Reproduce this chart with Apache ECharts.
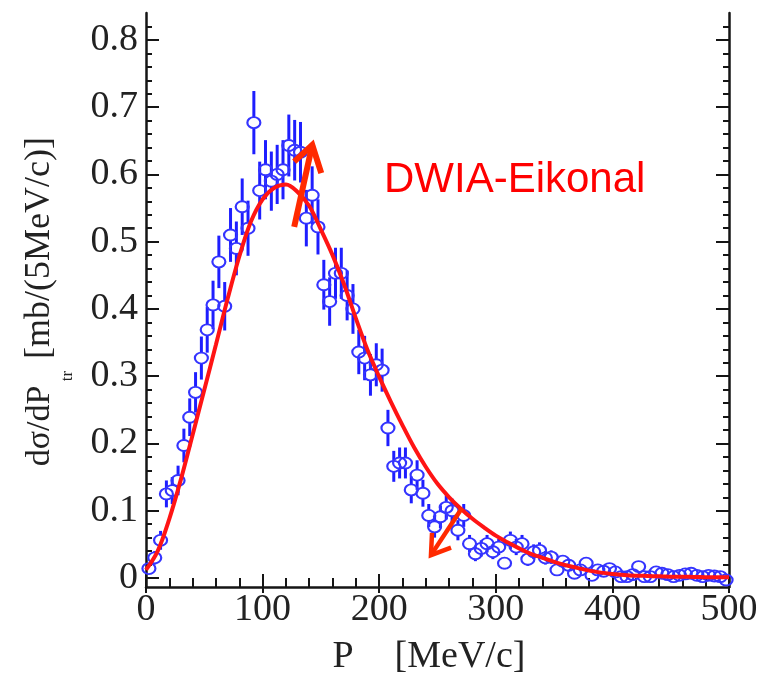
<!DOCTYPE html>
<html><head><meta charset="utf-8">
<script src="https://cdn.jsdelivr.net/npm/echarts@6/dist/echarts.min.js"></script>
<style>html,body{margin:0;padding:0;background:#fff}#c{width:765px;height:679px}</style>
</head><body><div id="c"></div>
<script>
// bin centres of the measured momentum distribution [MeV/c]
const binCenters = [2.5,7.5,12.5,17.5,22.5,27.5,32.5,37.5,42.5,47.5,52.5,57.5,62.5,67.5,72.5,77.5,82.5,87.5,92.5,97.5,
  102.5,107.5,112.5,117.5,122.5,127.5,132.5,137.5,142.5,147.5,152.5,157.5,162.5,167.5,172.5,177.5,182.5,187.5,192.5,197.5,
  202.5,207.5,212.5,217.5,222.5,227.5,232.5,237.5,242.5,247.5,252.5,257.5,262.5,267.5,272.5,277.5,282.5,287.5,292.5,297.5,
  302.5,307.5,312.5,317.5,322.5,327.5,332.5,337.5,342.5,347.5,352.5,357.5,362.5,367.5,372.5,377.5,382.5,387.5,392.5,397.5,
  402.5,407.5,412.5,417.5,422.5,427.5,432.5,437.5,442.5,447.5,452.5,457.5,462.5,467.5,472.5,477.5,482.5,487.5,492.5,497.5];
// measured dsigma/dP [mb/(5MeV/c)]
const measured = [0.014,0.030,0.056,0.125,0.130,0.145,0.197,0.239,0.276,0.327,0.369,0.406,0.470,0.404,0.510,0.490,0.552,0.520,0.677,0.576,
  0.607,0.590,0.600,0.607,0.643,0.636,0.633,0.535,0.569,0.522,0.436,0.411,0.453,0.453,0.420,0.400,0.336,0.327,0.302,0.317,
  0.309,0.223,0.166,0.171,0.171,0.131,0.153,0.126,0.093,0.076,0.091,0.105,0.100,0.071,0.093,0.051,0.036,0.044,0.051,0.039,
  0.046,0.022,0.056,0.046,0.051,0.028,0.039,0.041,0.030,0.031,0.012,0.025,0.019,0.007,0.012,0.022,0.004,0.012,0.010,0.014,
  0.009,0.002,0.002,0.005,0.017,0.002,0.002,0.009,0.007,0.005,0.002,0.004,0.006,0.007,0.004,0.002,0.004,0.003,0.002,-0.003];
// statistical errors
const errors = [0.008,0.010,0.014,0.020,0.020,0.022,0.025,0.028,0.030,0.032,0.034,0.036,0.039,0.036,0.040,0.040,0.042,0.041,0.047,0.043,
  0.044,0.044,0.044,0.044,0.046,0.045,0.045,0.042,0.043,0.041,0.037,0.036,0.038,0.038,0.037,0.037,0.033,0.033,0.031,0.032,
  0.032,0.027,0.023,0.023,0.023,0.020,0.022,0.020,0.017,0.016,0.017,0.018,0.018,0.015,0.017,0.013,0.011,0.012,0.013,0.011,
  0.012,0.009,0.013,0.012,0.013,0.010,0.011,0.012,0.010,0.010,0.007,0.009,0.008,0.006,0.007,0.009,0.005,0.007,0.006,0.007,
  0.006,0.005,0.005,0.005,0.008,0.005,0.005,0.006,0.006,0.005,0.005,0.005,0.005,0.006,0.005,0.005,0.005,0.005,0.005,0.005];
// DWIA-Eikonal calculation
const curveP = [0,10,20,30,40,50,60,70,80,90,100,110,120,130,140,150,160,170,180,190,200,210,220,230,240,250,
  260,270,280,290,300,310,320,330,340,350,360,370,380,390,400,410,420,430,440,450,460,470,480,490,500];
const curveSigma = [0.012,0.040,0.088,0.147,0.213,0.280,0.347,0.415,0.478,0.530,0.563,0.580,0.585,0.574,0.553,0.518,0.480,0.436,0.386,0.339,0.299,0.262,0.227,0.194,0.165,0.140,
  0.120,0.103,0.088,0.075,0.063,0.053,0.044,0.036,0.030,0.024,0.019,0.015,0.011,0.008,0.006,0.0045,0.0035,0.003,0.0025,0.002,0.0018,0.0015,0.0012,0.001,0.001];
// axis ticks
const xTickStep = 100;
const yMajorTicks = [0,0.1,0.2,0.3,0.4,0.5,0.6,0.7,0.8];
const yMinorTicks = [0.02,0.04,0.06,0.08,0.12,0.14,0.16,0.18,0.22,0.24,0.26,0.28,0.32,0.34,0.36,0.38,0.42,0.44,0.46,0.48,
  0.52,0.54,0.56,0.58,0.62,0.64,0.66,0.68,0.72,0.74,0.76,0.78,0.82];
// annotation arrows (data coordinates)
const arrowShafts = [[[127.1,0.522],[142.6,0.644]], [[271.0,0.104],[244.4,0.034]]];
const arrowHeads = [[[127.1,0.619],[142.6,0.644],[150.3,0.602]], [[245.3,0.067],[244.4,0.034],[261.6,0.045]]];

const serif = '"Liberation Serif","DejaVu Serif",serif';
const axisColor = '#151515';
const YMIN = -0.0134, YMAX = 0.84;

const chart = echarts.init(document.getElementById('c'), null, {renderer: 'canvas'});

function yAxisDef(pos, ticks, len, showLine, showLabel) {
  return {
    type: 'value', position: pos, min: YMIN, max: YMAX,
    axisLine: {show: showLine, onZero: false, lineStyle: {color: axisColor, width: 2.5}},
    axisTick: {show: true, inside: true, length: len, customValues: ticks, lineStyle: {color: axisColor, width: 2}},
    axisLabel: {show: showLabel, customValues: ticks, margin: 8, fontFamily: serif, fontSize: 38, color: '#222',
      formatter: v => String(+v.toFixed(2))},
    splitLine: {show: false}
  };
}

const option = {
  animation: false,
  backgroundColor: '#fff',
  grid: {left: 146, right: 36, top: 13, bottom: 92, containLabel: false},
  xAxis: [
    {type: 'value', position: 'bottom', min: 0, max: 500, interval: xTickStep,
     axisLine: {show: true, onZero: false, lineStyle: {color: axisColor, width: 2.5}},
     axisTick: {inside: true, length: 13, lineStyle: {color: axisColor, width: 2}},
     minorTick: {show: true, splitNumber: 5, length: 6, lineStyle: {color: axisColor, width: 2}},
     axisLabel: {margin: 4, fontFamily: serif, fontSize: 38, color: '#222'},
     splitLine: {show: false}, minorSplitLine: {show: false}},
    {type: 'value', position: 'top', min: 0, max: 500, interval: xTickStep,
     axisLine: {show: false},
     axisTick: {inside: true, length: 15, lineStyle: {color: axisColor, width: 2}},
     minorTick: {show: true, splitNumber: 5, length: 5, lineStyle: {color: axisColor, width: 2}},
     axisLabel: {show: false}, splitLine: {show: false}}
  ],
  yAxis: [
    yAxisDef('left', yMajorTicks, 13, true, true),
    yAxisDef('left', yMinorTicks, 6, false, false),
    yAxisDef('right', yMajorTicks, 13, true, false),
    yAxisDef('right', yMinorTicks, 6, false, false)
  ],
  series: [
    {
      type: 'custom', name: 'errors', xAxisIndex: 0, yAxisIndex: 0, z: 2, clip: false,
      data: binCenters.map((x, i) => [x, measured[i], errors[i]]),
      encode: {x: 0, y: 1},
      renderItem: function (params, api) {
        const x = api.value(0), y = api.value(1), e = api.value(2);
        const c = api.coord([x, y]);
        const t = api.coord([x, y + e]);
        const b = api.coord([x, y - e]);
        const r = 5.5;
        const ch = [];
        const st = {stroke: '#1e1eff', lineWidth: 3};
        if (c[1] - t[1] > r) ch.push({type: 'line', shape: {x1: c[0], y1: t[1], x2: c[0], y2: c[1] - r}, style: st});
        if (b[1] - c[1] > r) ch.push({type: 'line', shape: {x1: c[0], y1: c[1] + r, x2: c[0], y2: b[1]}, style: st});
        return {type: 'group', children: ch};
      }
    },
    {
      type: 'scatter', name: 'data', xAxisIndex: 0, yAxisIndex: 0, z: 3,
      data: binCenters.map((x, i) => [x, measured[i]]),
      symbol: 'circle', symbolSize: [13, 11],
      itemStyle: {color: 'rgba(0,0,0,0)', borderColor: '#3434ff', borderWidth: 2, opacity: 1},
      emphasis: {disabled: true}
    },
    {
      type: 'line', name: 'DWIA-Eikonal', xAxisIndex: 0, yAxisIndex: 0, z: 4,
      data: curveP.map((x, i) => [x, curveSigma[i]]),
      showSymbol: false, smooth: 0.35,
      lineStyle: {color: '#ff1414', width: 4}
    },
    {
      type: 'custom', name: 'arrows', xAxisIndex: 0, yAxisIndex: 0, z: 5, clip: false,
      data: arrowShafts.map(s => [s[1][0], s[1][1]]),
      encode: {x: 0, y: 1},
      renderItem: function (params, api) {
        const i = params.dataIndex;
        const w = i === 0 ? 6 : 4.5;
        const st = {stroke: '#ff2a00', lineWidth: w, fill: null, lineJoin: 'miter', lineCap: 'butt'};
        return {type: 'group', children: [
          {type: 'polyline', shape: {points: arrowShafts[i].map(p => api.coord(p))}, style: st},
          {type: 'polyline', shape: {points: arrowHeads[i].map(p => api.coord(p))}, style: st}
        ]};
      }
    }
  ],
  graphic: [
    {type: 'text', x: 40, y: 426, rotation: Math.PI / 2,
     style: {text: 'dσ/dP', font: '34px ' + serif, fill: '#222', align: 'center', verticalAlign: 'middle'}},
    {type: 'text', x: 68, y: 376, rotation: Math.PI / 2,
     style: {text: 'tr', font: '17px ' + serif, fill: '#222', align: 'center', verticalAlign: 'middle'}},
    {type: 'text', x: 40, y: 248, rotation: Math.PI / 2,
     style: {text: '[mb/(5MeV/c)]', font: '36px ' + serif, fill: '#222', align: 'center', verticalAlign: 'middle'}},
    {type: 'text', x: 343, y: 657,
     style: {text: 'P', font: '38px ' + serif, fill: '#222', align: 'center', verticalAlign: 'middle'}},
    {type: 'text', x: 460, y: 657,
     style: {text: '[MeV/c]', font: '38px ' + serif, fill: '#222', align: 'center', verticalAlign: 'middle'}},
    {type: 'text', x: 384, y: 180,
     style: {text: 'DWIA-Eikonal', font: '42px "Liberation Sans", Arial, sans-serif', fill: '#ff0000', align: 'left', verticalAlign: 'middle'}}
  ]
};
chart.setOption(option);
</script>
</body></html>
